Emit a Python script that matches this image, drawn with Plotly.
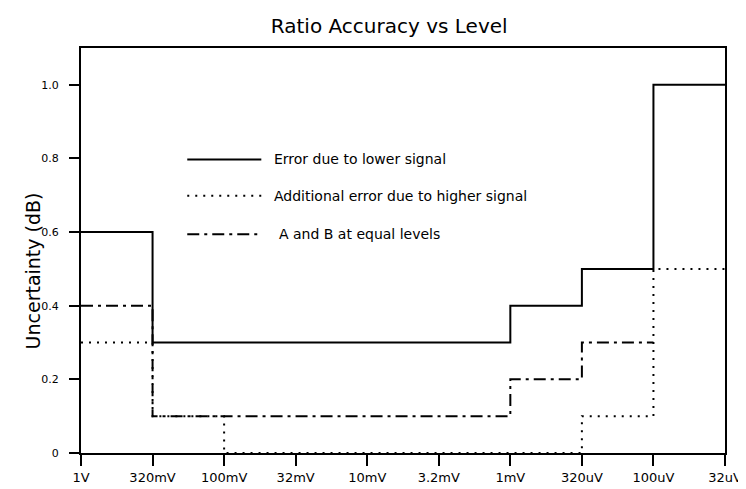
import plotly.graph_objects as go

# Signal levels along the x axis
levels = ["1V", "320mV", "100mV", "32mV", "10mV", "3.2mV", "1mV", "320uV", "100uV", "32uV"]

# Step values (dB), one value per level, held until the next level
lower_signal = [0.6, 0.3, 0.3, 0.3, 0.3, 0.3, 0.4, 0.5, 1.0, 1.0]
higher_signal = [0.3, 0.1, 0.0, 0.0, 0.0, 0.0, 0.0, 0.1, 0.5, 0.5]
equal_levels = [0.4, 0.1, 0.1, 0.1, 0.1, 0.1, 0.2, 0.3, 0.3]

y_ticks = [0, 0.2, 0.4, 0.6, 0.8, 1.0]
y_ticktext = ["0", "0.2", "0.4", "0.6", "0.8", "1.0"]

series = [
    ("Error due to lower signal", lower_signal, "solid"),
    ("Additional error due to higher signal", higher_signal, "2px,6px"),
    ("A and B at equal levels", equal_levels, "12px,5px,3px,5px"),
]

FONT = "DejaVu Sans"

fig = go.Figure()
for name, vals, dash in series:
    fig.add_trace(go.Scatter(
        x=levels[:len(vals)],
        y=vals,
        mode="lines",
        line=dict(color="black", width=2, dash=dash, shape="hv"),
        name=name,
        showlegend=False,
    ))

# hand-drawn legend, like the original figure
legend_rows = [0.725, 0.635, 0.54]
legend_text_x = [0.297, 0.297, 0.305]
for (name, vals, dash), yy, tx in zip(series, legend_rows, legend_text_x):
    fig.add_shape(type="line", xref="paper", yref="paper",
                  x0=0.165, x1=0.28, y0=yy, y1=yy,
                  line=dict(color="black", width=2, dash=dash))
    fig.add_annotation(xref="paper", yref="paper", x=tx, y=yy,
                       text=name, showarrow=False, xanchor="left",
                       yanchor="middle", font=dict(size=14, color="black"))

fig.add_annotation(xref="paper", yref="paper", x=-0.075, y=0.45,
                   text="Uncertainty (dB)", textangle=-90, showarrow=False,
                   xanchor="center", yanchor="middle",
                   font=dict(size=19, color="black"))

fig.update_layout(
    width=746,
    height=489,
    title=dict(text="Ratio Accuracy vs Level", x=0.511, xanchor="center",
               y=0.963, yanchor="middle", font=dict(size=20, color="black")),
    font=dict(family=FONT, color="black"),
    paper_bgcolor="white",
    plot_bgcolor="white",
    margin=dict(l=73, r=17, t=40, b=37),
    xaxis=dict(
        type="category", range=[0, 9], showgrid=False, zeroline=False,
        showline=True, linecolor="black", linewidth=2, mirror=True,
        ticks="outside", ticklen=11, tickwidth=2, tickcolor="black",
        tickfont=dict(size=13),
    ),
    yaxis=dict(
        range=[0, 1.1], showgrid=False, zeroline=False,
        showline=True, linecolor="black", linewidth=2, mirror=True,
        ticks="outside", ticklen=10, tickwidth=2, tickcolor="black",
        ticklabelstandoff=8,
        tickvals=y_ticks, ticktext=y_ticktext, tickfont=dict(size=11),
    ),
)

fig.write_html("out.html")
